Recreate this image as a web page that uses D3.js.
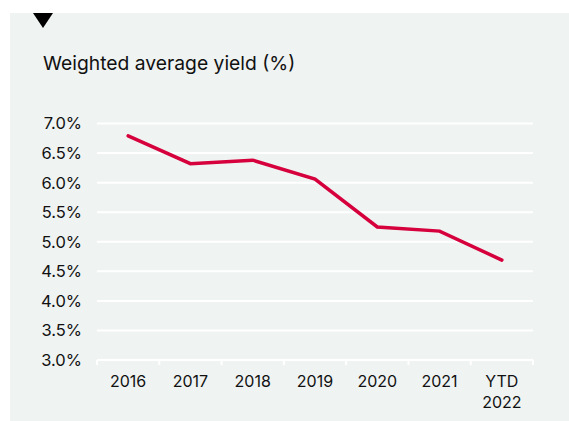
<!DOCTYPE html>
<html>
<head>
<meta charset="utf-8">
<script src="https://cdn.jsdelivr.net/npm/d3@7"></script>
<style>
  html, body { margin: 0; padding: 0; background: #ffffff; }
  svg { display: block; }
  text { font-family: Inter, "Liberation Sans", Arial, sans-serif; fill: #111111; }
</style>
</head>
<body>
<svg id="chart" width="569" height="421"></svg>
<script>
// Weighted average yield by year
const categories = ["2016", "2017", "2018", "2019", "2020", "2021", "YTD 2022"];
const yieldValues = [6.79, 6.32, 6.38, 6.06, 5.25, 5.18, 4.69];
const yTicks = [3.0, 3.5, 4.0, 4.5, 5.0, 5.5, 6.0, 6.5, 7.0];

const svg = d3.select("#chart");
const W = 569, H = 421;

// panel background
svg.append("rect")
  .attr("x", 10).attr("y", 13)
  .attr("width", W - 10).attr("height", H - 13)
  .attr("fill", "#eff3f2");

// marker triangle
svg.append("path")
  .attr("d", "M33,13 L53,13 L43,28 Z")
  .attr("fill", "#000000");

// title
svg.append("text")
  .attr("x", 43).attr("y", 70)
  .attr("font-size", 19.3)
  .text("Weighted average yield (%)");

const margin = { left: 97, right: 36, top: 123.5, bottom: 61 };
const x = d3.scaleBand()
  .domain(categories)
  .range([margin.left, W - margin.right])
  .padding(0);
const y = d3.scaleLinear()
  .domain([3.0, 7.0])
  .range([H - margin.bottom, margin.top]);

// horizontal grid
svg.append("g")
  .selectAll("line")
  .data(yTicks)
  .join("line")
  .attr("x1", margin.left)
  .attr("x2", W - margin.right)
  .attr("y1", d => y(d))
  .attr("y2", d => y(d))
  .attr("stroke", "#ffffff")
  .attr("stroke-width", 2);

// y tick labels
svg.append("g")
  .selectAll("text")
  .data(yTicks)
  .join("text")
  .attr("x", 82)
  .attr("y", d => y(d))
  .attr("dy", "0.36em")
  .attr("text-anchor", "end")
  .attr("font-size", 16.5)
  .text(d => d.toFixed(1) + "%");

// x axis tick marks at band boundaries
const bounds = categories.map(c => x(c)).concat([x(categories[categories.length - 1]) + x.bandwidth()]);
svg.append("g")
  .selectAll("line")
  .data(bounds)
  .join("line")
  .attr("x1", d => d).attr("x2", d => d)
  .attr("y1", y(3.0)).attr("y2", y(3.0) + 5)
  .attr("stroke", "#ffffff")
  .attr("stroke-width", 2);

// x labels (may wrap to two lines)
const xl = svg.append("g")
  .selectAll("text")
  .data(categories)
  .join("text")
  .attr("x", d => x(d) + x.bandwidth() / 2)
  .attr("y", 387)
  .attr("text-anchor", "middle")
  .attr("font-size", 16);
xl.each(function (d) {
  const parts = d.split(" ");
  const t = d3.select(this);
  parts.forEach((p, i) => {
    t.append("tspan")
      .attr("x", x(d) + x.bandwidth() / 2)
      .attr("dy", i === 0 ? 0 : 21)
      .text(p);
  });
});

// the yield line
const line = d3.line()
  .x((d, i) => x(categories[i]) + x.bandwidth() / 2)
  .y(d => y(d));
svg.append("path")
  .datum(yieldValues)
  .attr("d", line)
  .attr("fill", "none")
  .attr("stroke", "#d5003c")
  .attr("stroke-width", 3.5)
  .attr("stroke-linejoin", "miter")
  .attr("stroke-linecap", "round");
</script>
</body>
</html>
